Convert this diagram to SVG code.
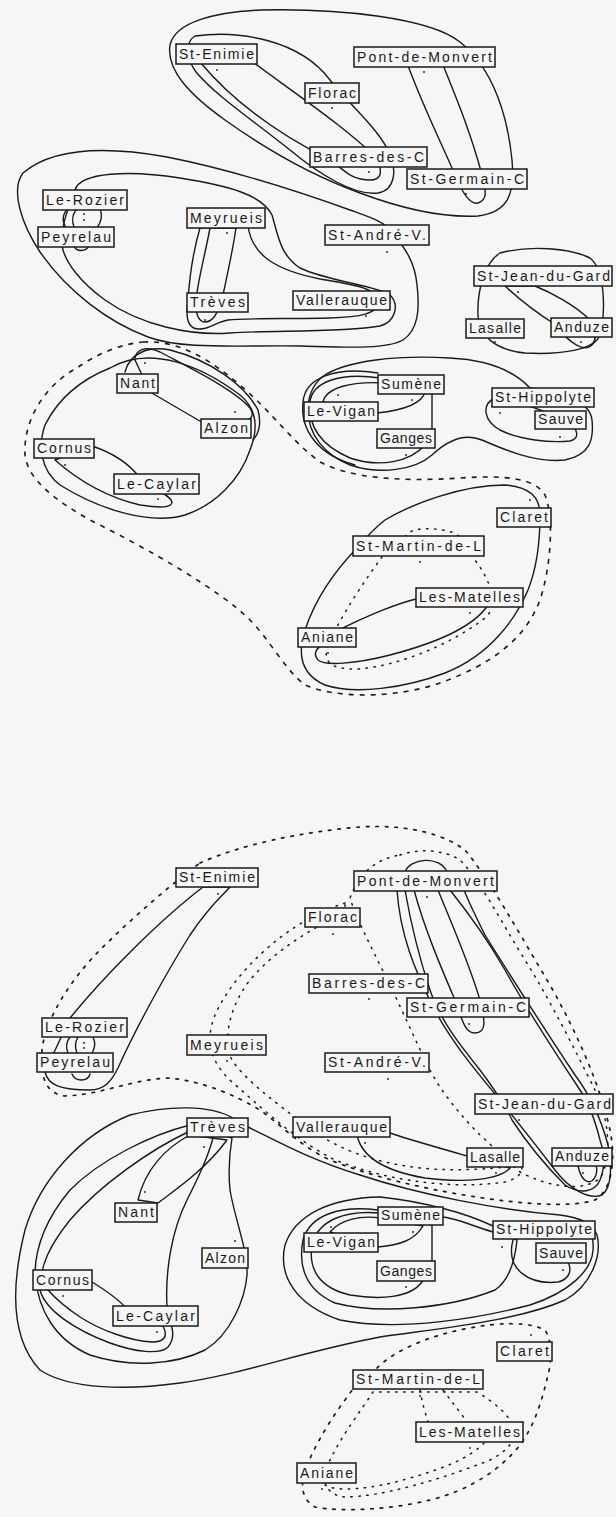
<svg xmlns="http://www.w3.org/2000/svg" width="616" height="1517" viewBox="0 0 616 1517">
<style>
.bg{fill:#f6f6f6}
.c{fill:none;stroke:#1a1a1a;stroke-width:1.4;stroke-linejoin:round;stroke-linecap:round}
.d{fill:none;stroke:#1a1a1a;stroke-width:1.6;stroke-dasharray:5 6}
.p{fill:none;stroke:#1a1a1a;stroke-width:1.7;stroke-dasharray:2.5 7;stroke-linecap:round}
.q{fill:none;stroke:#1a1a1a;stroke-width:1.5;stroke-dasharray:1.5 6.5;stroke-linecap:round}
.n rect{fill:#f6f6f6;stroke:#1a1a1a;stroke-width:1.5}
.n text{font-family:"Liberation Sans",Arial,sans-serif;font-size:14px;fill:#1a1a1a}
.n circle{fill:#1a1a1a}
</style>
<rect class="bg" x="0" y="0" width="616" height="1517"/>
<g id="connectors">
<path class="c" d="M 170,45 C 175,22 215,12 260,10 C 340,8 430,18 460,42 C 495,70 508,120 512,160 C 515,195 508,212 478,216 C 440,218 400,208 360,193 C 310,175 260,145 225,120 C 190,95 166,70 170,45 Z"/>
<path class="c" d="M 195,36 C 240,30 300,40 330,80 C 345,100 375,125 388,150 C 398,170 395,190 378,193 C 355,196 320,175 290,150 C 255,122 215,95 196,72 C 186,58 185,42 195,36 Z"/>
<path class="c" d="M 200,62 C 240,110 290,140 330,160 C 345,170 350,180 370,180 C 382,180 382,172 378,160 C 350,130 290,90 250,60 Z"/>
<path class="c" d="M 406,60 C 420,100 440,140 455,175 C 462,192 470,205 478,203 C 488,200 486,190 482,175 C 470,130 455,95 441,60 Z"/>
<path class="c" d="M 23,173 C 50,150 100,145 167,157 C 233,170 300,192 350,210 C 372,218 385,222 392,232 C 405,248 415,262 417,285 C 420,310 418,330 403,340 C 385,350 340,347 300,346 C 240,345 183,350 148,337 C 108,322 68,292 40,252 C 22,225 10,190 23,173 Z"/>
<path class="c" d="M 75,190 C 80,172 130,170 180,178 C 230,186 262,195 272,215 C 278,235 280,255 300,268 C 330,282 375,285 390,295 C 400,305 395,322 380,326 C 340,333 270,330 230,333 C 190,336 140,325 105,300 C 80,282 65,262 62,246 C 60,225 70,205 75,190 Z"/>
<path class="c" d="M 248,226 C 252,255 275,270 320,279 C 355,285 378,288 378,302 C 378,314 360,317 330,318 C 290,319 245,318 228,320 C 215,322 210,330 198,329 C 186,328 186,315 188,300 C 190,270 195,245 200,228 Z"/>
<path class="c" d="M 210,228 C 205,255 198,280 196,300 C 195,312 198,322 205,322 C 213,322 217,314 222,300 C 226,280 232,255 236,228 Z"/>
<path class="c" d="M 68,209 C 62,214 62,222 66,228 M 76,210 C 72,215 72,222 74,227 M 100,209 C 103,215 101,222 97,228 M 74,246 C 76,252 86,252 89,246"/>
<path class="c" d="M 500,253 C 530,245 570,248 590,258 C 605,270 606,310 600,335 C 595,350 560,355 525,353 C 495,350 478,335 478,315 C 477,290 485,262 500,253 Z"/>
<path class="c" d="M 505,286 C 520,300 540,315 556,325 C 570,345 585,352 592,345 C 598,338 595,330 590,320 C 575,305 550,292 535,286 Z"/>
<path class="d" d="M 143,342 C 180,340 210,360 240,385 C 275,415 290,440 320,462 C 350,478 400,482 460,478 C 505,475 535,478 545,495 C 555,520 550,570 540,600 C 525,640 490,665 440,683 C 400,697 340,700 305,685 C 285,670 270,640 250,620 C 220,590 150,550 90,520 C 55,500 28,480 25,455 C 23,420 45,385 77,368 C 95,355 120,344 143,342 Z"/>
<path class="c" d="M 110,368 C 150,345 200,365 240,395 C 258,410 258,430 250,450 C 240,480 215,505 185,515 C 150,525 100,510 60,485 C 40,470 38,445 45,425 C 60,395 85,378 110,368 Z"/>
<path class="c" d="M 150,392 L 205,424 C 245,425 258,420 250,408 C 235,390 190,368 160,352 C 145,345 135,350 135,360 Z"/>
<path class="c" d="M 125,372 C 130,352 150,346 170,350 C 210,360 245,385 258,410 C 262,425 258,435 253,440"/>
<path class="c" d="M 92,446 C 110,452 128,462 140,478 C 155,490 170,495 172,502 C 172,508 160,508 140,505 C 110,498 80,482 55,460 Z"/>
<path class="c" d="M 322,377 C 345,360 400,355 450,358 C 490,360 515,372 530,388 C 560,392 590,400 592,420 C 594,440 590,455 565,460 C 535,463 505,450 482,440 C 465,433 448,440 432,455 C 415,470 380,475 350,465 C 325,455 308,435 308,410 C 308,395 313,385 322,377 Z"/>
<path class="c" d="M 495,398 C 480,405 485,422 500,430 C 520,440 550,443 570,441 C 580,438 578,430 570,424 C 555,415 530,405 500,398 Z"/>
<path class="c" d="M 380,378 C 340,372 312,382 310,402 C 308,425 320,445 350,458 C 380,468 410,462 425,445 L 432,433 L 432,392 Z"/>
<path class="c" d="M 323,402 C 326,388 350,381 385,383 L 425,392 C 422,403 405,410 377,413 Z"/>
<path class="c" d="M 378,373 C 335,366 305,378 303,402 C 300,430 318,455 355,465"/>
<path class="c" d="M 360,545 C 335,570 315,600 305,630 C 297,655 302,675 325,685 C 355,695 405,688 445,673 C 490,655 515,620 528,590 C 538,565 540,535 540,515 C 540,497 530,487 505,485 C 460,485 410,505 385,520 C 375,528 368,535 360,545 Z"/>
<path class="c" d="M 338,630 C 360,620 390,605 420,598 L 488,605 C 475,625 440,642 390,655 C 355,664 325,666 318,660 C 313,654 316,648 322,646 Z"/>
<path class="q" d="M 382,557 C 365,580 345,610 330,640 C 320,662 330,670 360,669 C 400,665 450,645 485,618 C 500,605 490,580 475,560 C 470,545 460,532 443,530 C 430,528 418,528 410,532 Z"/>
<path class="p" d="M 200,863 C 240,845 300,832 360,827 C 410,824 445,835 465,850 C 490,880 520,935 550,985 C 578,1035 600,1085 610,1130 C 616,1160 612,1190 595,1200 C 570,1208 520,1204 470,1196 C 420,1188 370,1176 330,1160 C 300,1146 285,1128 260,1110 C 235,1095 200,1080 167,1078 C 130,1080 100,1095 65,1096 C 45,1094 40,1075 42,1050 C 45,1020 70,980 100,950 C 130,920 170,885 200,863 Z"/>
<path class="q" d="M 400,855 C 420,848 445,850 460,860 C 480,880 500,920 525,960 C 550,1000 575,1050 595,1090 C 610,1120 612,1160 600,1178 C 585,1192 550,1188 520,1172 C 505,1160 495,1148 480,1135 C 460,1115 440,1090 430,1070 C 415,1040 400,1005 385,975 C 370,945 355,915 350,898 C 360,870 380,858 400,855 Z"/>
<path class="q" d="M 345,903 C 290,920 235,970 215,1015 C 205,1040 210,1062 232,1082 C 262,1108 295,1140 335,1160 C 385,1180 450,1190 505,1182 C 520,1178 525,1170 520,1165 C 505,1168 460,1172 420,1168 C 370,1162 335,1148 305,1125 C 275,1102 245,1080 232,1060 C 222,1040 230,1005 250,980 C 275,950 310,930 345,912 Z"/>
<path class="c" d="M 203,887 C 160,920 105,975 70,1018 L 45,1072 C 48,1085 60,1090 90,1090 C 105,1090 112,1080 118,1068 C 135,1030 165,975 190,935 C 210,905 225,893 230,887 Z"/>
<path class="c" d="M 70,1037 C 66,1042 66,1048 68,1053 M 78,1037 C 75,1042 75,1048 77,1053 M 93,1037 C 96,1043 95,1048 92,1053 M 72,1074 C 75,1082 88,1082 90,1074"/>
<path class="c" d="M 405,872 C 410,858 440,855 447,872"/>
<path class="c" d="M 414,890 C 425,930 440,965 455,1000 C 462,1020 465,1033 475,1033 C 487,1033 485,1020 480,1000 C 468,960 450,920 438,890 Z"/>
<path class="c" d="M 405,890 C 412,930 420,960 430,990 C 440,1020 460,1045 480,1070 C 495,1090 505,1105 512,1120 C 525,1140 545,1165 565,1185 C 580,1195 595,1192 600,1180 C 605,1168 605,1155 600,1140 C 595,1120 590,1105 580,1090 C 560,1060 530,1015 505,970 C 485,935 462,905 450,890 Z"/>
<path class="c" d="M 397,890 C 400,935 415,970 432,1005 C 450,1040 475,1070 500,1100 C 520,1125 540,1150 555,1170 C 570,1190 590,1200 602,1195 C 612,1188 612,1165 608,1145 C 600,1115 590,1095 575,1075 C 545,1030 510,975 485,935 C 475,915 468,900 464,890 Z"/>
<path class="c" d="M 578,1166 C 582,1184 592,1186 596,1175 C 597,1171 597,1168 596,1166"/>
<path class="c" d="M 357,1135 C 362,1160 390,1172 425,1178 C 465,1183 500,1180 510,1168 L 467,1156 C 440,1148 410,1140 390,1133 Z"/>
<path class="c" d="M 233,1118 C 210,1105 170,1105 130,1115 C 80,1135 40,1180 25,1230 C 10,1290 12,1340 40,1370 C 70,1390 130,1390 180,1383 C 240,1375 300,1352 380,1337 C 450,1327 520,1320 565,1300 C 592,1285 602,1255 597,1235 C 592,1222 580,1218 560,1215 C 500,1210 420,1195 360,1175 C 310,1160 275,1140 248,1127"/>
<path class="c" d="M 380,1197 C 330,1198 295,1215 285,1245 C 278,1275 295,1305 340,1320 C 400,1332 480,1318 530,1305 C 570,1292 592,1270 593,1250 C 594,1235 590,1228 585,1225"/>
<path class="c" d="M 380,1197 C 410,1200 430,1205 445,1209 C 465,1214 480,1220 493,1226"/>
<path class="c" d="M 378,1210 C 340,1205 310,1215 303,1240 C 298,1265 305,1290 335,1303 C 380,1315 450,1308 495,1290 C 510,1280 515,1260 517,1240 L 493,1232 C 470,1225 455,1218 443,1217 Z"/>
<path class="c" d="M 513,1240 C 505,1270 530,1285 558,1282 C 570,1279 572,1270 568,1262"/>
<path class="c" d="M 380,1213 C 345,1210 318,1220 312,1245 C 308,1270 320,1288 350,1295 C 380,1300 410,1298 422,1282 L 432,1262 L 432,1225 Z"/>
<path class="c" d="M 330,1232 C 340,1220 360,1215 380,1218 L 423,1226 C 415,1240 400,1245 378,1247 Z"/>
<path class="c" d="M 190,1125 C 150,1135 100,1160 70,1190 C 45,1220 35,1250 35,1275 C 38,1310 55,1340 90,1355 C 130,1368 175,1365 205,1350 C 230,1335 245,1300 247,1275 C 248,1250 235,1220 230,1190 C 228,1170 230,1150 232,1138 Z"/>
<path class="c" d="M 188,1132 C 150,1150 100,1185 70,1220 C 50,1245 40,1265 40,1290 C 45,1310 75,1330 110,1343 C 135,1352 160,1355 168,1347 C 175,1338 173,1330 170,1320 L 167,1307 C 165,1270 172,1230 187,1200 C 197,1180 207,1160 213,1138 Z"/>
<path class="c" d="M 92,1282 C 105,1290 117,1298 125,1307 L 163,1326 C 168,1336 165,1342 152,1342 C 130,1341 100,1330 80,1317 C 65,1307 55,1298 48,1290 Z"/>
<path class="c" d="M 190,1135 C 165,1148 145,1170 138,1200 L 158,1203 C 175,1190 205,1170 227,1140 Z"/>
<path class="p" d="M 377,1368 C 395,1350 430,1335 470,1328 C 500,1322 530,1322 545,1330 C 552,1340 552,1360 548,1375 C 542,1400 535,1425 520,1445 C 500,1470 470,1490 430,1500 C 390,1510 340,1512 315,1507 C 302,1500 300,1485 305,1470 C 315,1445 330,1420 345,1400 C 355,1385 365,1375 377,1368 Z"/>
<path class="q" d="M 373,1392 C 360,1412 342,1435 330,1460 C 320,1480 325,1495 345,1497 C 380,1497 440,1480 490,1460 C 505,1452 515,1443 515,1430 C 510,1415 495,1403 477,1392 Z"/>
<path class="q" d="M 420,1390 C 422,1402 425,1412 428,1422 M 443,1390 C 452,1402 460,1412 467,1422 M 325,1485 C 335,1492 370,1490 410,1478 C 445,1468 470,1458 485,1442"/>
</g>
<g id="top-st-enimie" class="n"><rect x="176" y="44" width="81" height="20"/><text x="179" y="59" textLength="75" lengthAdjust="spacing">St-Enimie</text><circle cx="217" cy="70" r="0.9"/></g>
<g id="top-pont-de-monvert" class="n"><rect x="354" y="47" width="141" height="20"/><text x="357" y="62" textLength="135" lengthAdjust="spacing">Pont-de-Monvert</text><circle cx="424" cy="72" r="0.9"/></g>
<g id="top-florac" class="n"><rect x="305" y="83" width="54" height="20"/><text x="308" y="98" textLength="48" lengthAdjust="spacing">Florac</text><circle cx="332" cy="108" r="0.9"/></g>
<g id="top-barres-des-c" class="n"><rect x="310" y="147" width="117" height="20"/><text x="313" y="162" textLength="111" lengthAdjust="spacing">Barres-des-C</text><circle cx="369" cy="172" r="0.9"/></g>
<g id="top-st-germain-c" class="n"><rect x="407" y="169" width="120" height="20"/><text x="410" y="184" textLength="114" lengthAdjust="spacing">St-Germain-C</text><circle cx="466" cy="194" r="0.9"/></g>
<g id="top-le-rozier" class="n"><rect x="43" y="190" width="84" height="20"/><text x="46" y="205" textLength="78" lengthAdjust="spacing">Le-Rozier</text><circle cx="84" cy="214" r="0.9"/><circle cx="84" cy="220" r="0.9"/></g>
<g id="top-peyrelau" class="n"><rect x="38" y="227" width="76" height="20"/><text x="41" y="242" textLength="70" lengthAdjust="spacing">Peyrelau</text></g>
<g id="top-meyrueis" class="n"><rect x="187" y="208" width="78" height="20"/><text x="190" y="223" textLength="72" lengthAdjust="spacing">Meyrueis</text><circle cx="227" cy="233" r="0.9"/></g>
<g id="top-st-andre-v" class="n"><rect x="325" y="225" width="104" height="20"/><text x="328" y="240" textLength="98" lengthAdjust="spacing">St-André-V.</text><circle cx="387" cy="252" r="0.9"/></g>
<g id="top-treves" class="n"><rect x="187" y="293" width="61" height="19"/><text x="190" y="307" textLength="55" lengthAdjust="spacing">Trèves</text><circle cx="205" cy="320" r="0.9"/></g>
<g id="top-vallerauque" class="n"><rect x="293" y="291" width="97" height="19"/><text x="296" y="305" textLength="91" lengthAdjust="spacing">Vallerauque</text><circle cx="366" cy="316" r="0.9"/></g>
<g id="top-st-jean-du-gard" class="n"><rect x="474" y="266" width="138" height="20"/><text x="477" y="281" textLength="133" lengthAdjust="spacing">St-Jean-du-Gard</text><circle cx="518" cy="292" r="0.9"/></g>
<g id="top-lasalle" class="n"><rect x="466" y="319" width="58" height="19"/><text x="469" y="333" textLength="52" lengthAdjust="spacing">Lasalle</text><circle cx="495" cy="342" r="0.9"/></g>
<g id="top-anduze" class="n"><rect x="551" y="318" width="61" height="19"/><text x="554" y="332" textLength="55" lengthAdjust="spacing">Anduze</text><circle cx="581" cy="342" r="0.9"/></g>
<g id="top-nant" class="n"><rect x="117" y="374" width="41" height="19"/><text x="120" y="388" textLength="35" lengthAdjust="spacing">Nant</text><circle cx="145" cy="363" r="0.9"/></g>
<g id="top-sumene" class="n"><rect x="378" y="375" width="66" height="19"/><text x="381" y="389" textLength="60" lengthAdjust="spacing">Sumène</text><circle cx="412" cy="400" r="0.9"/></g>
<g id="top-st-hippolyte" class="n"><rect x="492" y="388" width="102" height="19"/><text x="495" y="402" textLength="96" lengthAdjust="spacing">St-Hippolyte</text><circle cx="500" cy="413" r="0.9"/></g>
<g id="top-le-vigan" class="n"><rect x="304" y="402" width="74" height="19"/><text x="307" y="416" textLength="68" lengthAdjust="spacing">Le-Vigan</text><circle cx="338" cy="395" r="0.9"/></g>
<g id="top-sauve" class="n"><rect x="535" y="411" width="51" height="18"/><text x="538" y="424" textLength="45" lengthAdjust="spacing">Sauve</text><circle cx="560" cy="437" r="0.9"/></g>
<g id="top-alzon" class="n"><rect x="201" y="419" width="50" height="19"/><text x="204" y="433" textLength="44" lengthAdjust="spacing">Alzon</text><circle cx="235" cy="412" r="0.9"/></g>
<g id="top-ganges" class="n"><rect x="377" y="429" width="58" height="19"/><text x="380" y="443" textLength="52" lengthAdjust="spacing">Ganges</text><circle cx="406" cy="455" r="0.9"/></g>
<g id="top-cornus" class="n"><rect x="34" y="439" width="60" height="19"/><text x="37" y="453" textLength="54" lengthAdjust="spacing">Cornus</text><circle cx="65" cy="465" r="0.9"/></g>
<g id="top-le-caylar" class="n"><rect x="114" y="474" width="85" height="20"/><text x="117" y="489" textLength="79" lengthAdjust="spacing">Le-Caylar</text><circle cx="158" cy="499" r="0.9"/></g>
<g id="top-claret" class="n"><rect x="497" y="508" width="54" height="19"/><text x="500" y="522" textLength="48" lengthAdjust="spacing">Claret</text><circle cx="530" cy="500" r="0.9"/></g>
<g id="top-st-martin-de-l" class="n"><rect x="353" y="536" width="131" height="20"/><text x="356" y="551" textLength="125" lengthAdjust="spacing">St-Martin-de-L</text><circle cx="420" cy="562" r="0.9"/></g>
<g id="top-les-matelles" class="n"><rect x="416" y="588" width="107" height="19"/><text x="419" y="602" textLength="101" lengthAdjust="spacing">Les-Matelles</text><circle cx="470" cy="613" r="0.9"/></g>
<g id="top-aniane" class="n"><rect x="298" y="628" width="58" height="19"/><text x="301" y="642" textLength="52" lengthAdjust="spacing">Aniane</text><circle cx="328" cy="653" r="0.9"/></g>
<g id="bot-st-enimie" class="n"><rect x="176" y="868" width="82" height="19"/><text x="179" y="882" textLength="76" lengthAdjust="spacing">St-Enimie</text><circle cx="218" cy="894" r="0.9"/></g>
<g id="bot-pont-de-monvert" class="n"><rect x="354" y="871" width="143" height="20"/><text x="357" y="886" textLength="137" lengthAdjust="spacing">Pont-de-Monvert</text><circle cx="427" cy="897" r="0.9"/></g>
<g id="bot-florac" class="n"><rect x="305" y="908" width="55" height="19"/><text x="308" y="922" textLength="49" lengthAdjust="spacing">Florac</text><circle cx="333" cy="934" r="0.9"/></g>
<g id="bot-barres-des-c" class="n"><rect x="309" y="974" width="119" height="19"/><text x="312" y="988" textLength="113" lengthAdjust="spacing">Barres-des-C</text><circle cx="369" cy="999" r="0.9"/></g>
<g id="bot-st-germain-c" class="n"><rect x="407" y="998" width="122" height="19"/><text x="410" y="1012" textLength="116" lengthAdjust="spacing">St-Germain-C</text><circle cx="469" cy="1024" r="0.9"/></g>
<g id="bot-le-rozier" class="n"><rect x="42" y="1018" width="85" height="19"/><text x="45" y="1032" textLength="79" lengthAdjust="spacing">Le-Rozier</text><circle cx="84" cy="1043" r="0.9"/><circle cx="84" cy="1048" r="0.9"/></g>
<g id="bot-meyrueis" class="n"><rect x="187" y="1035" width="79" height="20"/><text x="190" y="1050" textLength="73" lengthAdjust="spacing">Meyrueis</text><circle cx="227" cy="1061" r="0.9"/></g>
<g id="bot-peyrelau" class="n"><rect x="37" y="1053" width="76" height="19"/><text x="40" y="1067" textLength="70" lengthAdjust="spacing">Peyrelau</text></g>
<g id="bot-st-andre-v" class="n"><rect x="325" y="1053" width="104" height="19"/><text x="328" y="1067" textLength="98" lengthAdjust="spacing">St-André-V.</text><circle cx="388" cy="1079" r="0.9"/></g>
<g id="bot-st-jean-du-gard" class="n"><rect x="475" y="1094" width="138" height="20"/><text x="478" y="1109" textLength="133" lengthAdjust="spacing">St-Jean-du-Gard</text><circle cx="519" cy="1120" r="0.9"/></g>
<g id="bot-treves" class="n"><rect x="187" y="1118" width="61" height="19"/><text x="190" y="1132" textLength="55" lengthAdjust="spacing">Trèves</text><circle cx="204" cy="1147" r="0.9"/></g>
<g id="bot-vallerauque" class="n"><rect x="293" y="1117" width="97" height="20"/><text x="296" y="1132" textLength="91" lengthAdjust="spacing">Vallerauque</text><circle cx="365" cy="1143" r="0.9"/></g>
<g id="bot-lasalle" class="n"><rect x="467" y="1148" width="56" height="19"/><text x="470" y="1162" textLength="50" lengthAdjust="spacing">Lasalle</text><circle cx="496" cy="1173" r="0.9"/></g>
<g id="bot-anduze" class="n"><rect x="552" y="1148" width="60" height="18"/><text x="555" y="1161" textLength="54" lengthAdjust="spacing">Anduze</text><circle cx="583" cy="1173" r="0.9"/></g>
<g id="bot-nant" class="n"><rect x="115" y="1203" width="42" height="19"/><text x="118" y="1217" textLength="36" lengthAdjust="spacing">Nant</text><circle cx="145" cy="1192" r="0.9"/></g>
<g id="bot-sumene" class="n"><rect x="378" y="1207" width="65" height="18"/><text x="381" y="1220" textLength="59" lengthAdjust="spacing">Sumène</text><circle cx="413" cy="1232" r="0.9"/></g>
<g id="bot-st-hippolyte" class="n"><rect x="493" y="1221" width="102" height="18"/><text x="496" y="1234" textLength="96" lengthAdjust="spacing">St-Hippolyte</text><circle cx="502" cy="1247" r="0.9"/></g>
<g id="bot-le-vigan" class="n"><rect x="304" y="1233" width="74" height="19"/><text x="307" y="1247" textLength="68" lengthAdjust="spacing">Le-Vigan</text><circle cx="331" cy="1227" r="0.9"/></g>
<g id="bot-sauve" class="n"><rect x="536" y="1243" width="50" height="20"/><text x="539" y="1258" textLength="44" lengthAdjust="spacing">Sauve</text><circle cx="563" cy="1270" r="0.9"/></g>
<g id="bot-alzon" class="n"><rect x="202" y="1248" width="46" height="20"/><text x="205" y="1263" textLength="40" lengthAdjust="spacing">Alzon</text><circle cx="235" cy="1241" r="0.9"/></g>
<g id="bot-ganges" class="n"><rect x="377" y="1261" width="58" height="20"/><text x="380" y="1276" textLength="52" lengthAdjust="spacing">Ganges</text><circle cx="406" cy="1287" r="0.9"/></g>
<g id="bot-cornus" class="n"><rect x="33" y="1270" width="59" height="20"/><text x="36" y="1285" textLength="53" lengthAdjust="spacing">Cornus</text><circle cx="63" cy="1296" r="0.9"/></g>
<g id="bot-le-caylar" class="n"><rect x="113" y="1306" width="85" height="20"/><text x="116" y="1321" textLength="79" lengthAdjust="spacing">Le-Caylar</text><circle cx="157" cy="1332" r="0.9"/></g>
<g id="bot-claret" class="n"><rect x="497" y="1342" width="55" height="19"/><text x="500" y="1356" textLength="49" lengthAdjust="spacing">Claret</text><circle cx="531" cy="1335" r="0.9"/></g>
<g id="bot-st-martin-de-l" class="n"><rect x="353" y="1370" width="130" height="19"/><text x="356" y="1384" textLength="124" lengthAdjust="spacing">St-Martin-de-L</text><circle cx="420" cy="1396" r="0.9"/></g>
<g id="bot-les-matelles" class="n"><rect x="416" y="1422" width="107" height="20"/><text x="419" y="1437" textLength="101" lengthAdjust="spacing">Les-Matelles</text><circle cx="470" cy="1448" r="0.9"/></g>
<g id="bot-aniane" class="n"><rect x="297" y="1463" width="59" height="20"/><text x="300" y="1478" textLength="53" lengthAdjust="spacing">Aniane</text><circle cx="322" cy="1489" r="0.9"/></g>
</svg>
